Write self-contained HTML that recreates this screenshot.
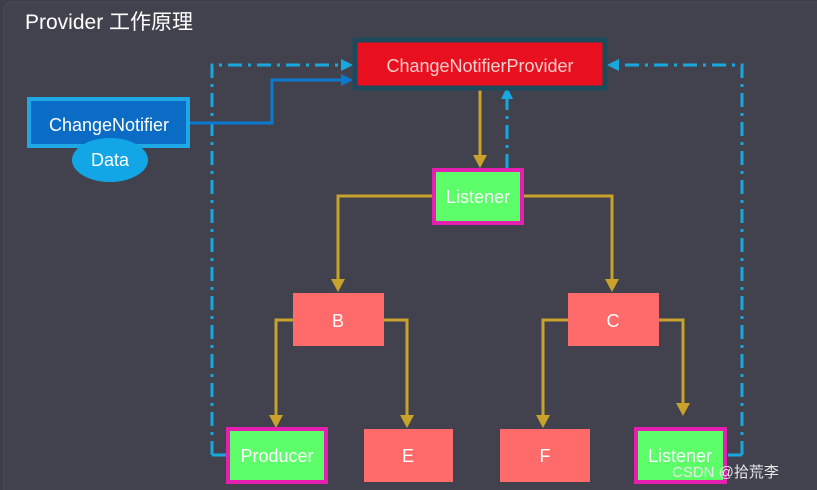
<!DOCTYPE html>
<html><head><meta charset="utf-8"><style>
body{margin:0;background:#3d3e4a;}
svg{display:block}
text{font-family:"Liberation Sans","Noto Sans CJK SC",sans-serif;fill:#fff;}
</style></head><body>
<svg width="817" height="490" viewBox="0 0 817 490" xmlns="http://www.w3.org/2000/svg">
<rect x="0" y="0" width="817" height="490" fill="#3d3e4a"/>
<rect x="4" y="2" width="830" height="500" rx="8" fill="#41424e" stroke="#4a4b57"/>
<text x="25" y="29" font-size="21">Provider 工作原理</text>

<g stroke="#18a8e0" stroke-width="3" fill="none" stroke-dasharray="14,6,3,6">
<path d="M212,455 L212,65 L342,65"/>
<path d="M742,455 L742,65 L618,65"/>
<path d="M507,168 L507,98"/>
<path d="M212,455 L226,455"/>
<path d="M728,455 L742,455"/>
</g>
<path d="M353,65 l-12,-6 v12z" fill="#18a8e0"/>
<path d="M607,65 l12,-6 v12z" fill="#18a8e0"/>
<path d="M507,87 l-6,12 h12z" fill="#18a8e0"/>

<path d="M190,123 H272 V80 H342" stroke="#0a7ad0" stroke-width="3" fill="none"/>
<path d="M353,80 l-12,-6 v12z" fill="#0a7ad0"/>

<g stroke="#c8a22a" stroke-width="3" fill="none">
<path d="M480,90 V158"/>
<path d="M432,196 H338 V282"/>
<path d="M524,196 H612 V282"/>
<path d="M293,320 H276 V416"/>
<path d="M384,320 H407 V416"/>
<path d="M568,320 H543 V416"/>
<path d="M659,320 H683 V404"/>
</g>
<g fill="#c8a22a">
<path d="M480,168 l-7,-13 h14z"/>
<path d="M338,292 l-7,-13 h14z"/>
<path d="M612,292 l-7,-13 h14z"/>
<path d="M276,428 l-7,-13 h14z"/>
<path d="M407,428 l-7,-13 h14z"/>
<path d="M543,428 l-7,-13 h14z"/>
<path d="M683,416 l-7,-13 h14z"/>
</g>

<rect x="355" y="40" width="250" height="48" fill="#e8101e" stroke="#1b4a5c" stroke-width="5"/>
<text x="480" y="72" font-size="18" text-anchor="middle" style="fill:#fbd0d0">ChangeNotifierProvider</text>

<rect x="29" y="99" width="159" height="47" fill="#0a6cc4" stroke="#1ea8e6" stroke-width="4"/>
<text x="109" y="131" font-size="18" text-anchor="middle">ChangeNotifier</text>
<ellipse cx="110" cy="160" rx="38" ry="22" fill="#12a6e6"/>
<text x="110" y="166" font-size="18" text-anchor="middle">Data</text>

<rect x="434" y="170" width="88" height="53" fill="#5cff6a" stroke="#e51fb0" stroke-width="4"/>
<text x="478" y="203" font-size="18" text-anchor="middle">Listener</text>

<rect x="293" y="293" width="91" height="53" fill="#ff6b6b"/>
<text x="338" y="327" font-size="18" text-anchor="middle">B</text>
<rect x="568" y="293" width="91" height="53" fill="#ff6b6b"/>
<text x="613" y="327" font-size="18" text-anchor="middle">C</text>

<rect x="228" y="429" width="98" height="53" fill="#5cff6a" stroke="#e51fb0" stroke-width="4"/>
<text x="277" y="462" font-size="18" text-anchor="middle">Producer</text>
<rect x="364" y="429" width="89" height="53" fill="#ff6b6b"/>
<text x="408" y="462" font-size="18" text-anchor="middle">E</text>
<rect x="500" y="429" width="90" height="53" fill="#ff6b6b"/>
<text x="545" y="462" font-size="18" text-anchor="middle">F</text>
<rect x="636" y="429" width="89" height="53" fill="#5cff6a" stroke="#e51fb0" stroke-width="4"/>
<text x="680" y="462" font-size="18" text-anchor="middle">Listener</text>

<text x="672" y="477" font-size="15" style="fill:#e8e8e8">CSDN @拾荒李</text>
</svg>
</body></html>
